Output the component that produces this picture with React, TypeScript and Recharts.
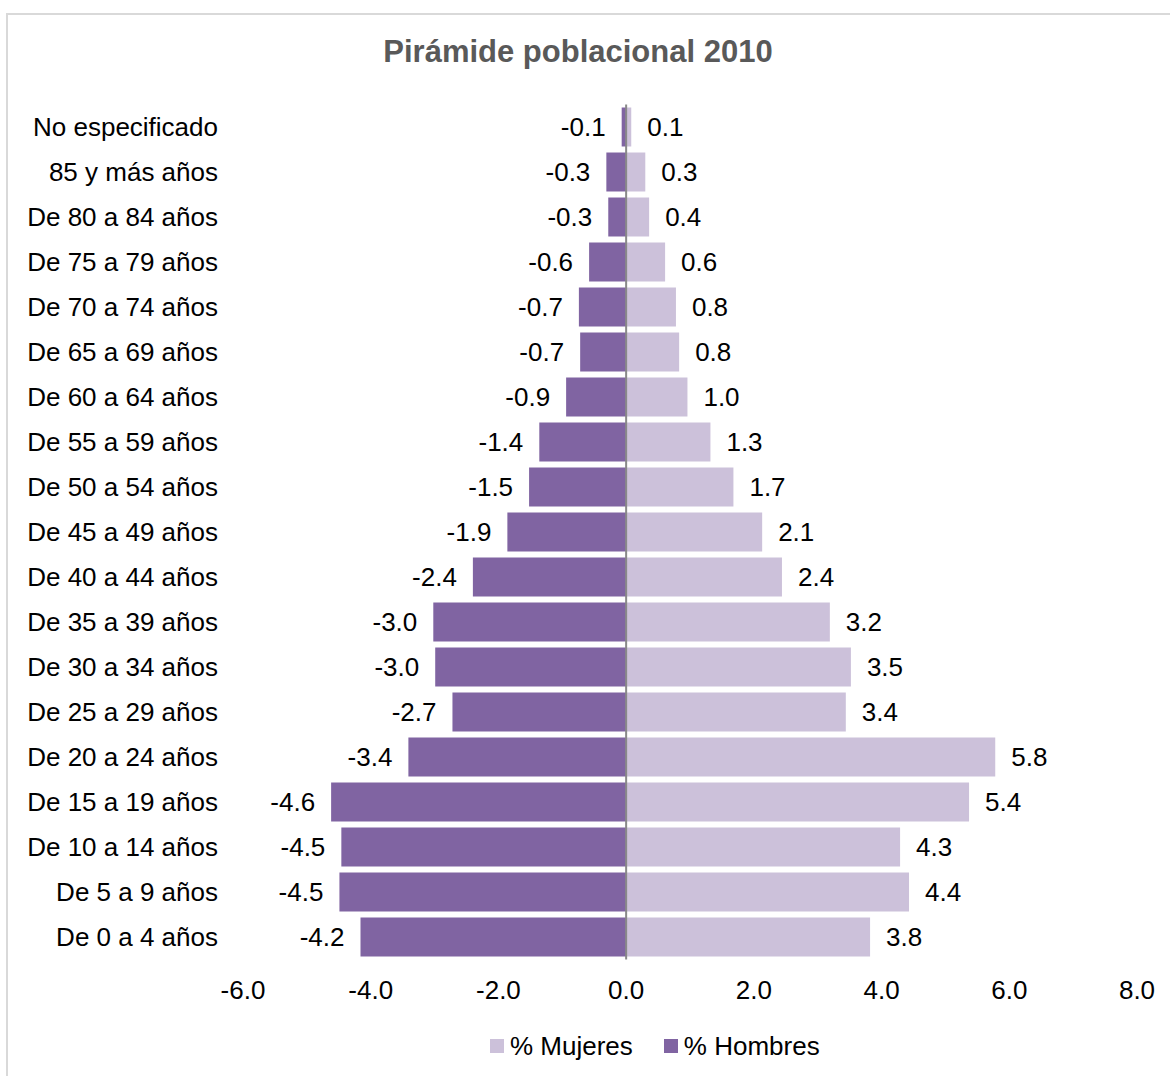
import {
  BarChart,
  Bar,
  XAxis,
  YAxis,
  Legend,
  LabelList,
  ReferenceLine,
} from "recharts";

const AGE_GROUPS = [
  "No especificado",
  "85 y más años",
  "De 80 a 84 años",
  "De 75 a 79 años",
  "De 70 a 74 años",
  "De 65 a 69 años",
  "De 60 a 64 años",
  "De 55 a 59 años",
  "De 50 a 54 años",
  "De 45 a 49 años",
  "De 40 a 44 años",
  "De 35 a 39 años",
  "De 30 a 34 años",
  "De 25 a 29 años",
  "De 20 a 24 años",
  "De 15 a 19 años",
  "De 10 a 14 años",
  "De 5 a 9 años",
  "De 0 a 4 años",
];

// % Hombres (negative side)
const HOMBRES = [
  -0.07, -0.31, -0.28, -0.58, -0.74, -0.72, -0.94, -1.36, -1.52, -1.86,
  -2.4, -3.02, -2.99, -2.72, -3.41, -4.62, -4.46, -4.49, -4.16,
];

// % Mujeres (positive side)
const MUJERES = [
  0.08, 0.3, 0.36, 0.61, 0.78, 0.83, 0.96, 1.32, 1.68, 2.13,
  2.44, 3.19, 3.52, 3.44, 5.78, 5.37, 4.29, 4.43, 3.82,
];

const X_TICKS = [-6, -4, -2, 0, 2, 4, 6, 8];

const COLOR_HOMBRES = "#8064A2";
const COLOR_MUJERES = "#CCC1DA";
const FONT = "'Liberation Sans', Arial, sans-serif";
const FS = 26;

const data = AGE_GROUPS.map((name, i) => ({
  name,
  hombres: HOMBRES[i],
  mujeres: MUJERES[i],
}));

const makeLabel = (side: "left" | "right") => (props: any) => {
  const vb = props.viewBox ?? props;
  const x0 = Number(vb.x);
  const w = Number(vb.width);
  const y0 = Number(vb.y);
  const h = Number(vb.height);
  const lo = Math.min(x0, x0 + w);
  const hi = Math.max(x0, x0 + w);
  const cy = y0 + h / 2;
  const v = Number(props.value);
  return (
    <text
      x={side === "left" ? lo - 16 : hi + 16}
      y={cy}
      dy="0.355em"
      textAnchor={side === "left" ? "end" : "start"}
      fontSize={FS}
      fill="#000"
      fontFamily={FONT}
    >
      {v.toFixed(1)}
    </text>
  );
};

const LegendBox = () => (
  <div
    style={{
      display: "flex",
      alignItems: "center",
      fontSize: FS,
      lineHeight: 1,
      color: "#000",
      fontFamily: FONT,
      whiteSpace: "nowrap",
    }}
  >
    <span style={{ width: 14, height: 14, background: COLOR_MUJERES, marginRight: 6 }} />
    <span style={{ marginRight: 31 }}>% Mujeres</span>
    <span style={{ width: 14, height: 14, background: COLOR_HOMBRES, marginRight: 6 }} />
    <span>% Hombres</span>
  </div>
);

export default function App() {
  return (
    <div
      style={{
        position: "absolute",
        left: 0,
        top: 0,
        width: 1170,
        height: 1076,
        overflow: "hidden",
        background: "#fff",
        fontFamily: FONT,
      }}
    >
      <div
        style={{
          position: "absolute",
          left: 6,
          top: 13,
          width: 1200,
          height: 1100,
          border: "2px solid #d9d9d9",
          boxSizing: "border-box",
        }}
      />
      <div
        style={{
          position: "absolute",
          left: 0,
          top: 36,
          width: 1156,
          textAlign: "center",
          fontSize: 31,
          lineHeight: 1,
          fontWeight: "bold",
          color: "#595959",
        }}
      >
        Pirámide poblacional 2010
      </div>
      <div style={{ position: "absolute", left: 0, top: 0 }}>
        <BarChart
          width={1170}
          height={1076}
          data={data}
          layout="vertical"
          stackOffset="sign"
          barCategoryGap={3}
          margin={{ top: 104.5, right: 33, bottom: 76.5, left: 0 }}
        >
          <XAxis
            type="number"
            domain={[-6, 8]}
            ticks={X_TICKS}
            tickFormatter={(v: number) => v.toFixed(1)}
            axisLine={false}
            tickLine={false}
            tickSize={0}
            tickMargin={21}
            height={40}
            tick={{ fontSize: FS, fill: "#000", fontFamily: FONT }}
          />
          <YAxis
            type="category"
            dataKey="name"
            width={243}
            interval={0}
            axisLine={false}
            tickLine={false}
            tickSize={0}
            tickMargin={25}
            tick={{ fontSize: FS, fill: "#000", fontFamily: FONT }}
          />
          <Bar dataKey="hombres" stackId="a" fill={COLOR_HOMBRES} isAnimationActive={false}>
            <LabelList dataKey="hombres" content={makeLabel("left")} />
          </Bar>
          <Bar dataKey="mujeres" stackId="a" fill={COLOR_MUJERES} isAnimationActive={false}>
            <LabelList dataKey="mujeres" content={makeLabel("right")} />
          </Bar>
          <ReferenceLine x={0} stroke="#898989" strokeWidth={2} />
          <Legend
            layout="horizontal"
            align="center"
            verticalAlign="middle"
            content={() => <LegendBox />}
            wrapperStyle={{ left: 490, top: 1033, width: "auto", height: "auto" }}
          />
        </BarChart>
      </div>
    </div>
  );
}
